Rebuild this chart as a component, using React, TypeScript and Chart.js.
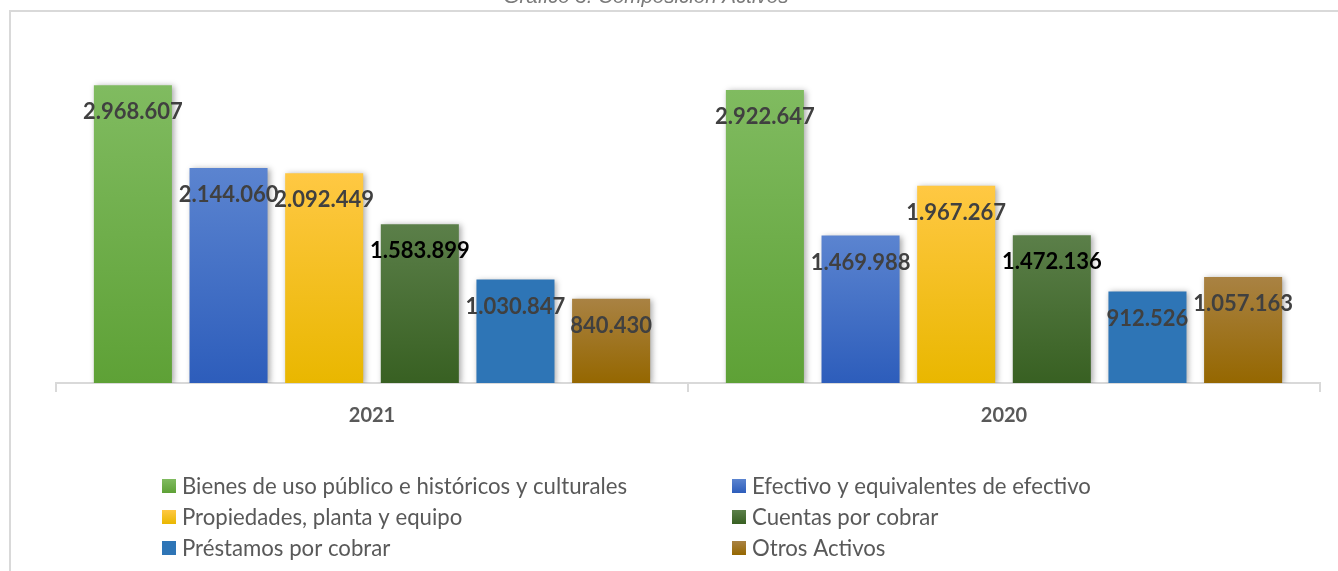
import React, { useEffect, useRef } from "react";
import { Chart, registerables } from "chart.js";

Chart.register(...registerables);

const categories = ["2021", "2020"];
const seriesNames = [
  "Bienes de uso público e históricos y culturales",
  "Efectivo y equivalentes de efectivo",
  "Propiedades, planta y equipo",
  "Cuentas por cobrar",
  "Préstamos por cobrar",
  "Otros Activos",
];
const bienes = [2968607, 2922647];
const efectivo = [2144060, 1469988];
const propiedades = [2092449, 1967267];
const cuentas = [1583899, 1472136];
const prestamos = [1030847, 912526];
const otros = [840430, 1057163];
const seriesValues = [bienes, efectivo, propiedades, cuentas, prestamos, otros];

const gradTop = ["#80bb60", "#5b84d0", "#ffc843", "#5b7f49", "#2e75b6", "#a98243"];
const gradBottom = ["#5ea136", "#2d5dbb", "#e9b700", "#386022", "#2e75b6", "#956700"];
const labelColors = ["#404040", "#404040", "#404040", "#000000", "#404040", "#404040"];

const title = "Gráfico 3. Composición Activos";

const fmt = (v: number) => String(v).replace(/\B(?=(\d{3})+(?!\d))/g, ".");

const framePlugin = {
  id: "frameTitle",
  beforeDraw(chart: any) {
    const ctx = chart.ctx;
    ctx.save();
    ctx.fillStyle = "#ffffff";
    ctx.fillRect(0, 0, chart.width, chart.height);
    ctx.strokeStyle = "#d9d9d9";
    ctx.lineWidth = 2;
    ctx.beginPath();
    ctx.moveTo(10, chart.height);
    ctx.lineTo(10, 11);
    ctx.lineTo(chart.width, 11);
    ctx.stroke();
    ctx.fillStyle = "#7a7a7a";
    ctx.font = "italic 20.5px 'Liberation Sans', Arial, sans-serif";
    ctx.textAlign = "center";
    ctx.textBaseline = "alphabetic";
    ctx.fillText(title, 646, 3);
    ctx.restore();
  },
};

const shadowPlugin = {
  id: "barShadow",
  beforeDatasetsDraw(chart: any) {
    const ctx = chart.ctx;
    ctx.save();
    ctx.shadowColor = "rgba(0,0,0,0.35)";
    ctx.shadowBlur = 6;
    ctx.shadowOffsetX = 2;
    ctx.shadowOffsetY = 1;
  },
  afterDatasetsDraw(chart: any) {
    chart.ctx.restore();
  },
};

const labelPlugin = {
  id: "valueLabels",
  afterDatasetsDraw(chart: any) {
    const ctx = chart.ctx;
    ctx.save();
    ctx.font = "bold 22px Lato, sans-serif";
    ctx.textAlign = "center";
    ctx.textBaseline = "middle";
    chart.data.datasets.forEach((ds: any, i: number) => {
      const meta = chart.getDatasetMeta(i);
      meta.data.forEach((el: any, j: number) => {
        ctx.fillStyle = labelColors[i];
        ctx.fillText(fmt(ds.data[j]), el.x, el.y + 27);
      });
    });
    ctx.restore();
  },
};

const legendPlugin = {
  id: "twoColLegend",
  afterDraw(chart: any) {
    const ctx = chart.ctx;
    ctx.save();
    const colX = [162, 732];
    const rowY = [486, 517, 548];
    ctx.font = "22.2px Lato, sans-serif";
    ctx.textBaseline = "middle";
    ctx.textAlign = "left";
    seriesNames.forEach((name, i) => {
      const x = colX[i % 2];
      const y = rowY[Math.floor(i / 2)];
      const g = ctx.createLinearGradient(0, y - 7, 0, y + 7);
      g.addColorStop(0, gradTop[i]);
      g.addColorStop(1, gradBottom[i]);
      ctx.fillStyle = g;
      ctx.fillRect(x, y - 7, 14, 14);
      ctx.fillStyle = "#595959";
      ctx.fillText(name, x + 20, y + 1);
    });
    ctx.restore();
  },
};

export default function App() {
  const ref = useRef<HTMLCanvasElement | null>(null);
  useEffect(() => {
    if (!ref.current) return;
    const chart = new Chart(ref.current, {
      type: "bar",
      data: {
        labels: categories,
        datasets: seriesValues.map((vals, i) => ({
          label: seriesNames[i],
          data: vals,
          backgroundColor: (c: any) => {
            const ch = c.chart;
            const ys = ch.scales && ch.scales.y;
            if (!ch.chartArea || !ys || typeof c.raw !== "number") return gradBottom[i];
            const top = ys.getPixelForValue(c.raw);
            const bottom = ys.getPixelForValue(0);
            const g = ch.ctx.createLinearGradient(0, top, 0, bottom);
            g.addColorStop(0, gradTop[i]);
            g.addColorStop(1, gradBottom[i]);
            return g;
          },
          borderWidth: 0,
          barPercentage: 0.816,
          categoryPercentage: 0.908,
        })),
      },
      options: {
        responsive: false,
        animation: false,
        devicePixelRatio: 1,
        layout: { padding: { left: 56, right: 18, top: 32, bottom: 0 } },
        plugins: {
          legend: { display: false },
          title: { display: false },
          tooltip: { enabled: false },
        },
        scales: {
          x: {
            grid: {
              offset: true,
              drawOnChartArea: false,
              color: "#d9d9d9",
              lineWidth: 2,
              tickLength: 9,
            },
            border: { color: "#d9d9d9", width: 2 },
            ticks: {
              color: "#595959",
              font: { family: "Lato", weight: "bold", size: 20 },
              padding: 12,
            },
            afterFit: (s: any) => {
              s.height = 188;
            },
          },
          y: {
            display: false,
            min: 0,
            max: 3500000,
          },
        },
      },
      plugins: [framePlugin, shadowPlugin, labelPlugin, legendPlugin],
    });
    return () => chart.destroy();
  }, []);
  return (
    <div style={{ position: "absolute", left: 0, top: 0, width: 1338, height: 571, background: "#fff" }}>
      <canvas ref={ref} width={1338} height={571} style={{ display: "block" }} />
    </div>
  );
}
